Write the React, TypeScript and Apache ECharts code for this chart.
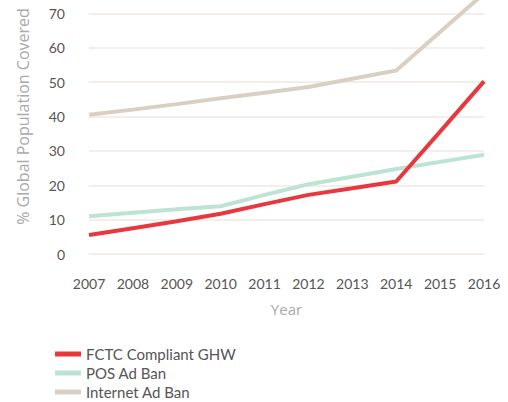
import React, { useEffect, useRef } from "react";
import * as echarts from "echarts";

const years = ["2007", "2008", "2009", "2010", "2011", "2012", "2013", "2014", "2015", "2016"];
const fctc = [5.5, 7.5, 9.5, 11.7, 14.5, 17.2, 19.1, 21.1, 35.6, 50.2];
const pos = [11, 12, 13, 13.9, 17.2, 20.3, 22.5, 24.7, 26.8, 28.9];
const internet = [40.5, 42, 43.6, 45.3, 46.9, 48.6, 51, 53.4, 64.6, 75.8];

export default function App() {
  const ref = useRef<HTMLDivElement>(null);
  useEffect(() => {
    document.body.style.margin = "0";
    document.body.style.overflow = "hidden";
    const chart = echarts.init(ref.current!, null, { renderer: "svg" });
    const font = "Lato, 'Open Sans', sans-serif";
    const nameFont = "'Open Sans', Lato, sans-serif";
    chart.setOption({
      animation: false,
      textStyle: { fontFamily: font },
      grid: { left: 89, right: 24, top: 0, bottom: 168, containLabel: false },
      legend: {
        orient: "vertical",
        left: 50,
        top: 362,
        icon: "rect",
        itemWidth: 26,
        itemHeight: 5,
        itemGap: 3,
        textStyle: { fontFamily: font, fontSize: 15, color: "#555", lineHeight: 16 },
        data: ["FCTC Compliant GHW", "POS Ad Ban", "Internet Ad Ban"],
      },
      xAxis: {
        type: "category",
        data: years,
        boundaryGap: false,
        name: "Year",
        nameLocation: "middle",
        nameGap: 47,
        nameTextStyle: { fontFamily: nameFont, fontSize: 15, color: "#aaa" },
        axisLine: { show: false },
        axisTick: { show: false },
        axisLabel: { fontFamily: font, fontSize: 14, color: "#555", margin: 22 },
        splitLine: { show: false },
      },
      yAxis: {
        type: "value",
        min: 0,
        max: 80,
        interval: 10,
        name: "% Global Population Covered",
        nameLocation: "middle",
        nameGap: 58,
        nameTextStyle: { fontFamily: nameFont, fontSize: 16, color: "#aaa", padding: [0, 0, 0, 0] },
        axisLine: { show: false },
        axisTick: { show: false },
        axisLabel: { fontFamily: font, fontSize: 14, color: "#555", margin: 24, showMaxLabel: false },
        splitLine: { lineStyle: { color: "#efe9e3", width: 1.5 } },
      },
      series: [
        {
          name: "FCTC Compliant GHW",
          type: "line",
          data: fctc,
          symbol: "none",
          lineStyle: { width: 4, color: "#e8383d" },
          itemStyle: { color: "#e8383d" },
          z: 4,
        },
        {
          name: "POS Ad Ban",
          type: "line",
          data: pos,
          symbol: "none",
          lineStyle: { width: 4, color: "#bde3d5" },
          itemStyle: { color: "#bde3d5" },
          z: 3,
        },
        {
          name: "Internet Ad Ban",
          type: "line",
          data: internet,
          symbol: "none",
          lineStyle: { width: 4, color: "#d8d0c3" },
          itemStyle: { color: "#d8d0c3" },
          z: 2,
        },
      ],
    });
    return () => chart.dispose();
  }, []);
  return (
    <div
      ref={ref}
      style={{ position: "absolute", left: 0, top: -21, width: 508, height: 443 }}
    />
  );
}
